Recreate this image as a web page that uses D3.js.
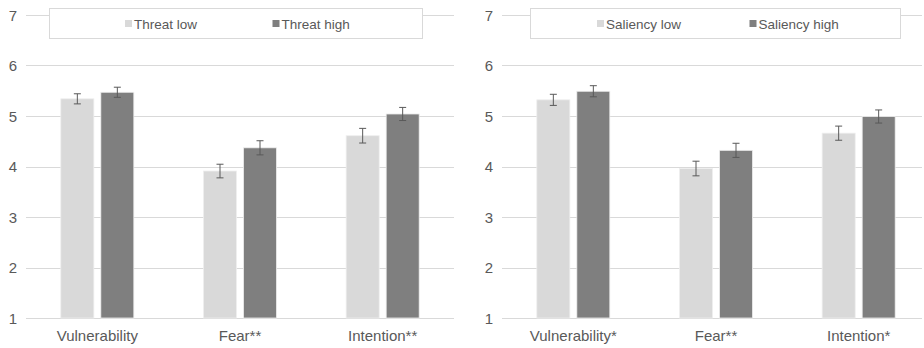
<!DOCTYPE html>
<html><head><meta charset="utf-8">
<script src="https://cdnjs.cloudflare.com/ajax/libs/d3/7.8.5/d3.min.js"></script>
<style>body{margin:0;background:#fff}svg{display:block;font-family:"Liberation Sans",Arial,sans-serif}</style>
</head><body>
<svg id="c" width="924" height="348"></svg>
<script>
const yTicks = [1, 2, 3, 4, 5, 6, 7];
const leftCategories = ["Vulnerability", "Fear**", "Intention**"];
const leftSeries = ["Threat low", "Threat high"];
const leftLow = [5.34, 3.91, 4.61];
const leftHigh = [5.47, 4.37, 5.04];
const leftLowErr = [0.10, 0.135, 0.145];
const leftHighErr = [0.10, 0.14, 0.13];

const rightCategories = ["Vulnerability*", "Fear**", "Intention*"];
const rightSeries = ["Saliency low", "Saliency high"];
const rightLow = [5.32, 3.96, 4.66];
const rightHigh = [5.49, 4.32, 4.99];
const rightLowErr = [0.11, 0.145, 0.14];
const rightHighErr = [0.11, 0.14, 0.13];

const colors = ["#d9d9d9", "#7f7f7f"];
const svg = d3.select("#c");

function panel(opt) {
  const g = svg.append("g");
  const y = d3.scaleLinear().domain([1, 7]).range([318, 15]);
  const x0 = d3.scaleBand().domain(opt.cats).range([opt.x0, opt.x1]).padding(0);
  const bw = x0.bandwidth();
  const x1 = d3.scaleBand().domain([0, 1]).range([bw / 2 - 36.5, bw / 2 + 36.5]).paddingInner(0.175).paddingOuter(0);

  g.selectAll(".grid").data(yTicks).join("line")
    .attr("x1", opt.x0).attr("x2", Math.min(opt.x1, 922))
    .attr("y1", d => Math.round(y(d)) + 0.5).attr("y2", d => Math.round(y(d)) + 0.5)
    .attr("stroke", "#d9d9d9").attr("stroke-width", 1);

  g.selectAll(".yl").data(yTicks).join("text")
    .attr("x", opt.x0 - 9).attr("y", d => y(d) + 5.5)
    .attr("text-anchor", "end").attr("font-size", 15).attr("fill", "#595959")
    .text(d => d);

  const rows = opt.cats.map((c, i) => ({c, vals: [opt.low[i], opt.high[i]], errs: [opt.lowErr[i], opt.highErr[i]]}));
  const grp = g.selectAll(".cat").data(rows).join("g")
    .attr("transform", d => `translate(${x0(d.c)},0)`);
  const items = grp.selectAll(".b").data(d => d.vals.map((v, k) => ({k, v, e: d.errs[k]}))).join("g");
  items.append("rect")
    .attr("x", d => x1(d.k)).attr("width", x1.bandwidth())
    .attr("y", d => y(d.v)).attr("height", d => y(1) - y(d.v))
    .attr("fill", d => colors[d.k]).attr("stroke", "#eeeeee").attr("stroke-width", 0.8);
  const cx = d => x1(d.k) + x1.bandwidth() / 2;
  items.append("line").attr("x1", cx).attr("x2", cx)
    .attr("y1", d => y(d.v + d.e)).attr("y2", d => y(d.v - d.e))
    .attr("stroke", "#595959").attr("stroke-width", 1);
  [1, -1].forEach(s => {
    items.append("line").attr("x1", d => cx(d) - 3.5).attr("x2", d => cx(d) + 3.5)
      .attr("y1", d => y(d.v + s * d.e)).attr("y2", d => y(d.v + s * d.e))
      .attr("stroke", "#595959").attr("stroke-width", 1);
  });

  g.selectAll(".cl").data(opt.cats).join("text")
    .attr("x", d => x0(d) + bw / 2).attr("y", 341)
    .attr("text-anchor", "middle").attr("font-size", 15).attr("fill", "#595959")
    .text(d => d);

  g.append("rect").attr("x", opt.lx).attr("y", 8.5).attr("width", opt.lw).attr("height", 30)
    .attr("fill", "#fff").attr("stroke", "#d9d9d9").attr("stroke-width", 1);
  opt.series.forEach((s, k) => {
    g.append("rect").attr("x", opt.legX[k]).attr("y", 20).attr("width", 7).attr("height", 7).attr("fill", colors[k]);
    g.append("text").attr("x", opt.legX[k] + 9).attr("y", 28.5).attr("font-size", 13.5)
      .attr("fill", "#595959").text(s);
  });
}

panel({cats: leftCategories, series: leftSeries, low: leftLow, high: leftHigh, lowErr: leftLowErr, highErr: leftHighErr,
  x0: 26, x1: 454, lx: 49.5, lw: 373, legX: [125, 272.5]});
panel({cats: rightCategories, series: rightSeries, low: rightLow, high: rightHigh, lowErr: rightLowErr, highErr: rightHighErr,
  x0: 502, x1: 930, lx: 530.5, lw: 370, legX: [597, 749.5]});
</script>
</body></html>
